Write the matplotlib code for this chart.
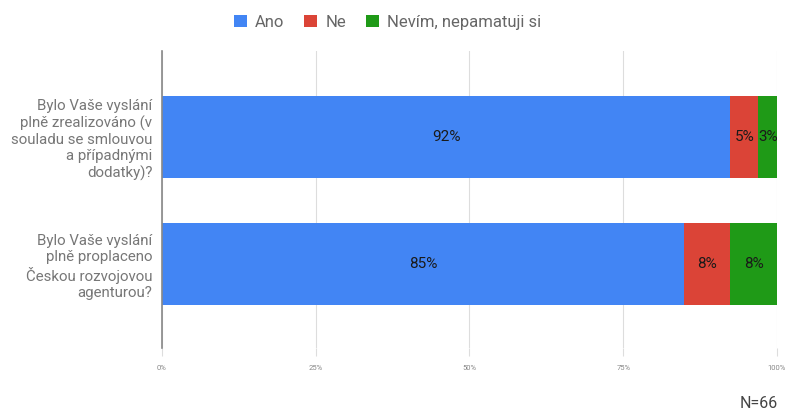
import numpy as np
import matplotlib
matplotlib.use("Agg")
import matplotlib.pyplot as plt

questions = [
    "Bylo Vaše vyslání\nplně zrealizováno (v\nsouladu se smlouvou\na případnými\ndodatky)?",
    "Bylo Vaše vyslání\nplně proplaceno\nČeskou rozvojovou\nagenturou?",
]
answers = ["Ano", "Ne", "Nevím, nepamatuji si"]
counts = {
    "Ano": [61, 56],
    "Ne": [3, 5],
    "Nevím, nepamatuji si": [2, 5],
}
n_total = 66
colors = ["#4285f4", "#db4437", "#1f9a17"]

plt.rcParams["font.family"] = ["Roboto", "DejaVu Sans"]

fig = plt.figure(figsize=(7.91, 4.17), dpi=100)
ax = fig.add_axes([0.2048, 0.1655, 0.7775, 0.7122])

y = np.arange(len(questions))
left = np.zeros(len(questions))
for ans, col in zip(answers, colors):
    pct = np.array(counts[ans]) / n_total * 100
    bars = ax.barh(y, pct, left=left, height=0.646, color=col, label=ans, zorder=2)
    for b, p in zip(bars, pct):
        ax.text(b.get_x() + b.get_width() / 2, b.get_y() + b.get_height() / 2,
                f"{p:.0f}%", ha="center", va="center", fontsize=11,
                color="#1a1a1a", zorder=3)
    left += pct

ax.set_xlim(0, 100)
ax.set_ylim(1.66, -0.68)
ax.set_xticks([0, 25, 50, 75, 100])
ax.set_xticklabels(["0%", "25%", "50%", "75%", "100%"], fontsize=5.5, color="#888888")
ax.tick_params(axis="x", length=6, color="#dddddd", pad=6)
ax.set_yticks(y)
ax.set_yticklabels(questions, fontsize=10.8, color="#777777", linespacing=1.2)
ax.tick_params(axis="y", length=0, pad=7)
ax.grid(axis="x", color="#dddddd", linewidth=0.8, zorder=0)
for s in ["top", "right", "bottom"]:
    ax.spines[s].set_visible(False)
ax.spines["left"].set_color("#888888")
ax.spines["left"].set_linewidth(1.2)

fig.legend(loc="upper center", bbox_to_anchor=(0.49, 1.0), ncol=3, frameon=False,
           fontsize=12, handlelength=0.75, handleheight=0.75, handletextpad=0.5,
           columnspacing=1.2, labelcolor="#666666")
fig.text(0.983, 0.015, f"N={n_total}", ha="right", va="bottom", fontsize=11.5, color="#444444")

fig.savefig("out.png", dpi=100)
plt.close(fig)
